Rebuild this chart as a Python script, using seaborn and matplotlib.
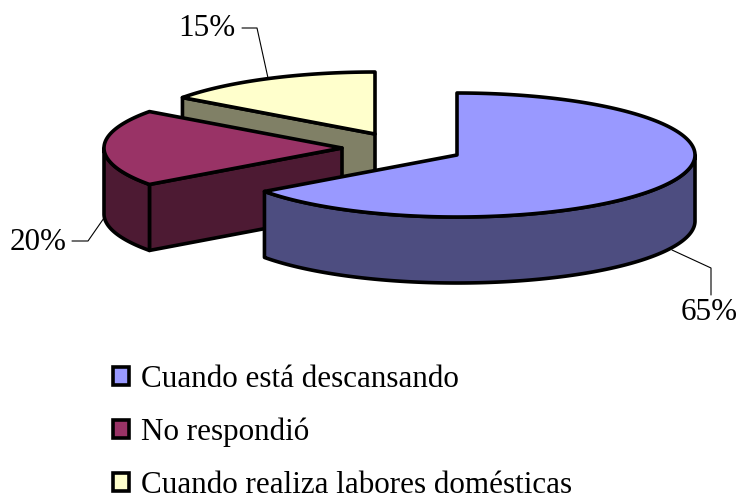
import numpy as np
import seaborn as sns
import matplotlib.pyplot as plt
from matplotlib.patches import Patch

# chart data
categories = ["Cuando está descansando", "No respondió", "Cuando realiza labores domésticas"]
shares = [65, 20, 15]
pct_labels = ["65%", "20%", "15%"]
top_colors = ["#9999FF", "#993366", "#FFFFCC"]
side_colors = ["#4D4D80", "#4D1A33", "#808066"]

# layout, in pixels of the picture
centers = [(457, 155), (342, 148), (375, 134)]
RX, RY, DEPTH = 238, 62, 66
leaders = [[(672, 250), (711, 268), (711, 295)],
           [(72, 241), (88, 241), (104, 218)],
           [(242, 28), (257, 28), (268, 78)]]
label_pos = [(709, 312), (38, 243), (207, 29)]
FONT = 22.4

sns.set_theme(style="white")
plt.rcParams["font.family"] = ["Liberation Serif", "DejaVu Sans"]

fig = plt.figure(figsize=(7.37, 4.95), dpi=100)
ax = fig.add_axes([0, 0, 1, 1])
ax.set_xlim(0, 737)
ax.set_ylim(495, 0)
ax.axis("off")


def rim(cx, cy, a0, a1):
    # angles in degrees, clockwise from 12 o'clock
    t = np.radians(np.linspace(a0, a1, 200))
    return cx + RX * np.sin(t), cy - RY * np.cos(t)


def draw_slice(i, a0, a1):
    cx, cy = centers[i]
    x, y = rim(cx, cy, a0, a1)
    edge = dict(edgecolor="black", linewidth=2.6, joinstyle="round")

    # inner wall, the one that faces the viewer
    if a0 >= 180:
        ax.fill([cx, x[0], x[0], cx], [cy, y[0], y[0] + DEPTH, cy + DEPTH],
                facecolor=side_colors[i], **edge)

    # outer wall, front half of the rim only
    lo, hi = max(a0, 90), min(a1, 270)
    if lo < hi:
        xs, ys = rim(cx, cy, lo, hi)
        ax.fill(np.r_[xs, xs[::-1]], np.r_[ys, ys[::-1] + DEPTH],
                facecolor=side_colors[i], **edge)

    ax.fill(np.r_[cx, x], np.r_[cy, y], facecolor=top_colors[i], **edge)


bounds = np.r_[0, np.cumsum(shares)] * 3.6
for i in [2, 1, 0]:
    draw_slice(i, bounds[i], bounds[i + 1])

for pts, txt, pos in zip(leaders, pct_labels, label_pos):
    lx, ly = zip(*pts)
    ax.plot(lx, ly, color="black", lw=0.8, zorder=1)
    ax.text(pos[0], pos[1], txt, fontsize=FONT, color="black", ha="center", va="center")

handles = [Patch(facecolor=c, edgecolor="black", linewidth=2.6) for c in top_colors]
ax.legend(handles, categories, loc="upper left", bbox_to_anchor=(113 / 737, 1 - 365 / 495),
          frameon=False, fontsize=FONT, handlelength=0.52, handleheight=0.52,
          handletextpad=0.38, labelspacing=0.76, borderpad=0, borderaxespad=0,
          labelcolor="black")

fig.savefig("out.png", dpi=100)
